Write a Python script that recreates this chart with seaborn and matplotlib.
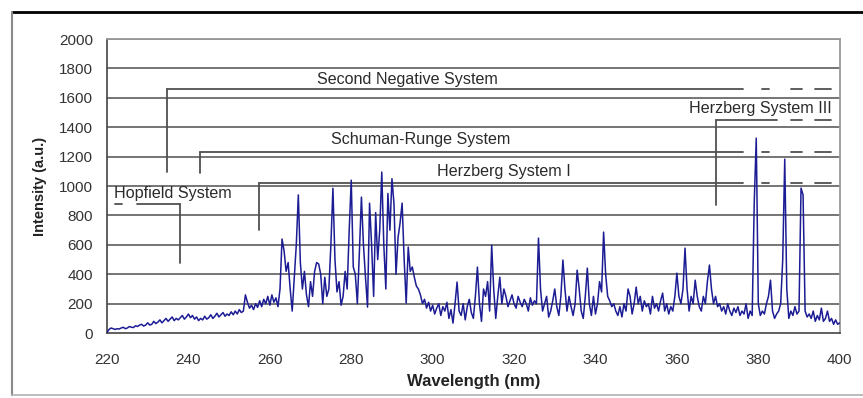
import matplotlib
matplotlib.use("Agg")
import matplotlib.pyplot as plt
from matplotlib.lines import Line2D
import numpy as np
import pandas as pd
import seaborn as sns

# Spectrum, 0.5 nm steps from 220 to 400 nm
wl_start = 220.0
wl_step = 0.5
intensity = [
    # 220 - 229.5
    5, 25, 35, 30, 25, 30, 28, 35, 40, 30, 35, 45, 40, 38, 50, 45, 55, 60, 48, 55,
    # 230 - 239.5
    70, 55, 60, 80, 65, 75, 90, 70, 85, 100, 80, 95, 110, 85, 100, 90, 105, 120, 95, 110,
    # 240 - 249.5
    130, 105, 120, 95, 110, 85, 100, 90, 115, 95, 105, 125, 100, 115, 135, 110, 125, 140, 115, 130,
    # 250 - 259.5
    120, 145, 125, 150, 130, 160, 140, 150, 260, 210, 170, 190, 160, 200, 175, 220, 180, 230, 200, 250,
    # 260 - 269.5
    190, 260, 210, 240, 180, 300, 640, 560, 420, 480, 300, 150, 380, 600, 940, 480, 300, 420, 260, 180,
    # 270 - 279.5
    350, 250, 420, 480, 470, 400, 200, 380, 250, 300, 600, 985, 500, 280, 350, 190, 250, 420, 300, 700,
    # 280 - 289.5
    1040, 450, 400, 200, 550, 925, 600, 380, 177, 884, 600, 250, 820, 500, 700, 1095, 600, 300, 950, 700,
    # 290 - 299.5
    1050, 880, 400, 650, 750, 884, 500, 204, 585, 420, 450, 380, 320, 300, 260, 200, 230, 170, 210, 150,
    # 300 - 309.5
    190, 130, 170, 200, 120, 180, 150, 210, 100, 160, 68, 200, 347, 150, 120, 200, 90, 180, 230, 140,
    # 310 - 319.5
    100, 250, 449, 200, 80, 300, 250, 350, 150, 598, 300, 100, 250, 380, 200, 300, 250, 180, 220, 260,
    # 320 - 329.5
    200, 170, 250, 210, 180, 230, 200, 150, 240, 190, 220, 200, 646, 300, 150, 200, 250, 109, 150, 220,
    # 330 - 339.5
    300, 180, 120, 250, 497, 300, 150, 250, 180, 120, 200, 428, 300, 150, 100, 250, 442, 200, 120, 250,
    # 340 - 349.5
    130, 200, 350, 280, 687, 400, 250, 220, 180, 200, 150, 120, 180, 110, 200, 150, 300, 250, 130, 200,
    # 350 - 359.5
    313, 200, 250, 150, 220, 180, 200, 130, 250, 170, 200, 150, 220, 272, 150, 200, 130, 180, 150, 250,
    # 360 - 369.5
    408, 250, 200, 300, 578, 300, 150, 250, 200, 360, 250, 180, 150, 250, 200, 350, 463, 300, 200, 250,
    # 370 - 379.5
    180, 200, 150, 180, 130, 200, 150, 120, 170, 140, 180, 120, 150, 130, 200, 100, 150, 120, 884, 1326,
    # 380 - 389.5
    200, 120, 150, 130, 200, 250, 360, 150, 100, 130, 150, 200, 497, 1183, 300, 100, 150, 120, 180, 130,
    # 390 - 399.5
    150, 986, 940, 150, 110, 130, 100, 150, 80, 120, 90, 170, 80, 100, 150, 80, 100, 60, 90, 60,
    # 400
    70,
]
wavelength = wl_start + wl_step * np.arange(len(intensity))

x_ticks = [220, 240, 260, 280, 300, 320, 340, 360, 380, 400]
y_ticks = [0, 200, 400, 600, 800, 1000, 1200, 1400, 1600, 1800, 2000]

# Band system brackets: name, label position, bar level, bar start/end, drop end
systems = ["Second Negative System", "Schuman-Runge System", "Herzberg System I",
           "Herzberg System III", "Hopfield System"]
label_x = [293.7, 297.1, 317.4, 380.6, 236.3]
label_y = [1728, 1320, 1102, 1530, 952]
bar_y = [1660, 1231, 1020, 1449, 877]
bar_x0 = [234.7, 242.8, 257.3, 369.5, 227.4]
bar_x1 = [376.2, 376.2, 376.2, 384.5, 237.9]
drop_x = [234.7, 242.8, 257.3, 369.5, 237.9]
drop_y = [1095, 1088, 700, 870, 476]

sns.set_style("white")
plt.rcParams["font.family"] = ["Liberation Sans", "DejaVu Sans"]

fig = plt.figure(figsize=(8.63, 3.98), dpi=100)
ax = fig.add_axes([0.124, 0.163, 0.849, 0.739])

df = pd.DataFrame({"Wavelength": wavelength, "Intensity": intensity})
sns.lineplot(data=df, x="Wavelength", y="Intensity", ax=ax,
             color="#1c1c94", linewidth=1.1, zorder=3)

# gridlines
for v in y_ticks[1:]:
    ax.axhline(v, color="#757575", linewidth=1.4, zorder=1)

# brackets
ann_col = "#505050"
for i, name in enumerate(systems):
    ax.plot([bar_x0[i], bar_x1[i]], [bar_y[i], bar_y[i]], color=ann_col, lw=1.3, zorder=2)
    ax.plot([drop_x[i], drop_x[i]], [bar_y[i], drop_y[i]], color=ann_col, lw=1.3, zorder=2)
    ax.text(label_x[i], label_y[i], name, ha="center", va="center",
            fontsize=11.6, color="#2a2a2a", zorder=4)

# dashed continuations on the right
dash_segs = [(381.0, 382.7), (388.0, 390.7), (394.0, 397.8)]
for i in range(4):
    for a, b in dash_segs:
        if a > bar_x1[i]:
            ax.plot([a, b], [bar_y[i], bar_y[i]], color=ann_col, lw=1.3, zorder=2)
# little dash on the Hopfield bar
ax.plot([222.0, 223.8], [bar_y[4], bar_y[4]], color=ann_col, lw=1.3, zorder=2)

ax.set_xlim(220, 400)
ax.set_ylim(0, 2000)
ax.set_xticks(x_ticks)
ax.set_yticks(y_ticks)
ax.tick_params(axis="both", direction="out", length=4, width=1, colors="#333333",
               labelsize=11, labelcolor="#333333", pad=6)
ax.tick_params(axis="x", pad=10)

for side in ["left", "bottom"]:
    ax.spines[side].set_color("#444444")
    ax.spines[side].set_linewidth(1.2)
for side in ["top", "right"]:
    ax.spines[side].set_color("#9a9a9a")
    ax.spines[side].set_linewidth(1.3)

ax.set_xlabel("Wavelength (nm)", fontsize=12, fontweight="bold", color="#222222", labelpad=5)
ax.set_ylabel("Intensity (a.u.)", fontsize=10.5, fontweight="bold", color="#222222", labelpad=9)

# outer frame of the chart area
fig.add_artist(Line2D([12 / 863, 1.0], [1 - 12 / 398, 1 - 12 / 398], color="black", lw=2))
fig.add_artist(Line2D([12 / 863, 12 / 863], [3 / 398, 1 - 12 / 398], color="#8a8a8a", lw=1.5))
fig.add_artist(Line2D([12 / 863, 1.0], [3 / 398, 3 / 398], color="#b0b0b0", lw=1.2))

fig.savefig("out.png", dpi=100)
